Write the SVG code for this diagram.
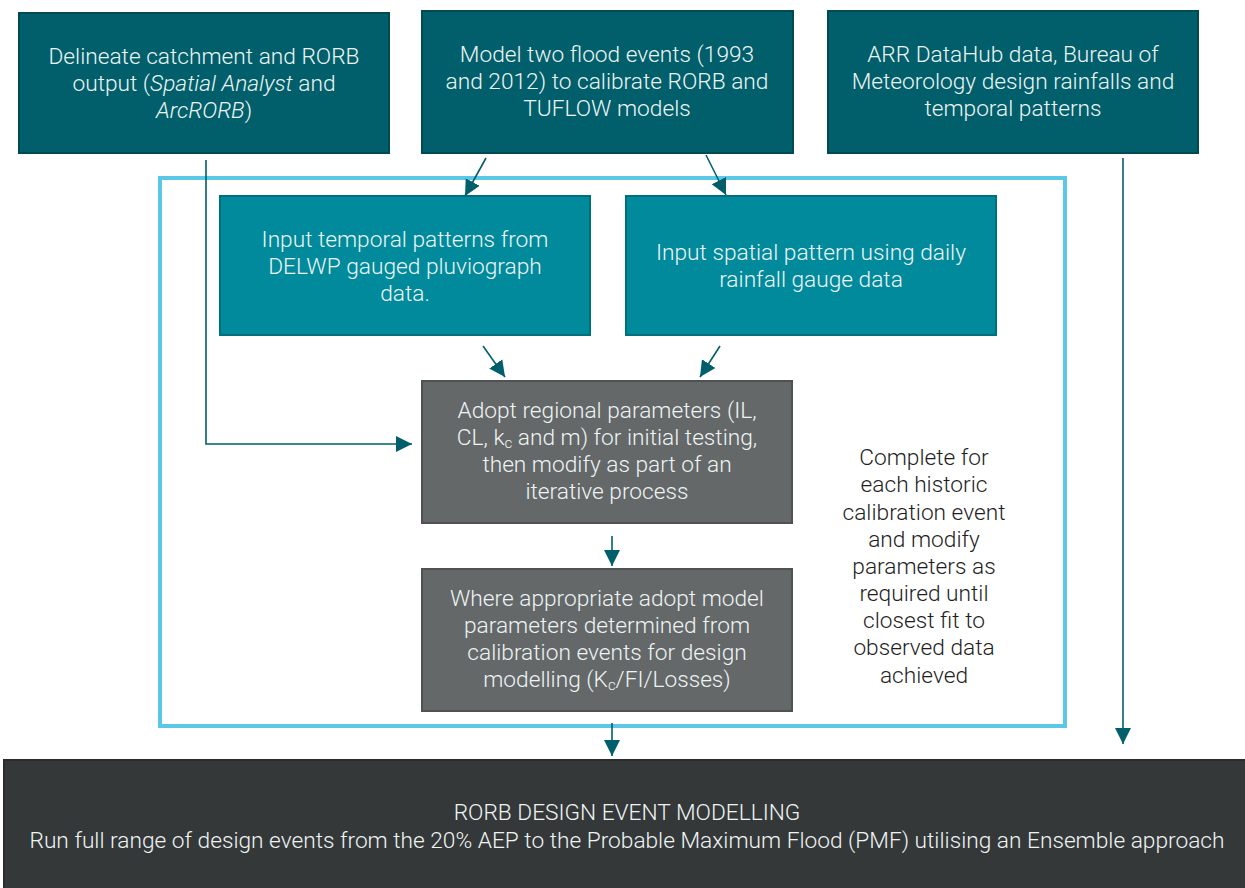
<svg xmlns="http://www.w3.org/2000/svg" width="1245" height="888" viewBox="0 0 1245 888">
<defs>
<marker id="ahb" viewBox="0 0 10 10" refX="10" refY="5" markerWidth="16" markerHeight="18" markerUnits="userSpaceOnUse" orient="auto">
<path d="M0,0 L10,5 L0,10 z" fill="#005f6b"/>
</marker>
</defs>
<style>
.dark{fill:#005f6b;stroke:#004a54;stroke-width:2}
.mid{fill:#008a9c;stroke:#00707e;stroke-width:2}
.gray{fill:#646869;stroke:#4e5253;stroke-width:2}
.bot{fill:#353839;stroke:#2a2c2d;stroke-width:2}
.t{font-family:Roboto,"Liberation Sans",sans-serif;font-weight:300;font-size:22.7px;fill:#eef4f4;text-anchor:middle}
.tk{font-family:Roboto,"Liberation Sans",sans-serif;font-weight:300;font-size:22.7px;fill:#1e1e1e;text-anchor:middle}
.c{stroke:#005f6b;stroke-width:1.6;fill:none;marker-end:url(#ahb)}
.sub{font-size:15px}
</style>
<rect width="1245" height="888" fill="#ffffff"/>
<g id="frame">
<rect x="160" y="178" width="905" height="548" fill="none" stroke="#5bc8e8" stroke-width="4"/>
</g>
<g id="n1">
<rect class="dark" x="19" y="13" width="370" height="140"/>
<text class="t" x="204" y="64">Delineate catchment and RORB</text>
<text class="t" x="204" y="91">output (<tspan font-style="italic">Spatial Analyst</tspan> and</text>
<text class="t" x="204" y="118"><tspan font-style="italic">ArcRORB</tspan>)</text>
</g>
<g id="n2">
<rect class="dark" x="422" y="11" width="371" height="142"/>
<text class="t" x="607" y="62">Model two flood events (1993</text>
<text class="t" x="607" y="89">and 2012) to calibrate RORB and</text>
<text class="t" x="607" y="116">TUFLOW models</text>
</g>
<g id="n3">
<rect class="dark" x="828" y="11" width="370" height="142"/>
<text class="t" x="1013" y="62">ARR DataHub data, Bureau of</text>
<text class="t" x="1013" y="89">Meteorology design rainfalls and</text>
<text class="t" x="1013" y="116">temporal patterns</text>
</g>
<g id="n4">
<rect class="mid" x="220" y="196" width="370" height="139"/>
<text class="t" x="405" y="247">Input temporal patterns from</text>
<text class="t" x="405" y="274">DELWP gauged pluviograph</text>
<text class="t" x="405" y="301">data.</text>
</g>
<g id="n5">
<rect class="mid" x="626" y="196" width="370" height="139"/>
<text class="t" x="811" y="260">Input spatial pattern using daily</text>
<text class="t" x="811" y="287">rainfall gauge data</text>
</g>
<g id="n6">
<rect class="gray" x="422" y="381" width="370" height="142"/>
<text class="t" x="607" y="418">Adopt regional parameters (IL,</text>
<text class="t" x="607" y="445">CL, k<tspan class="sub" dy="3">c</tspan><tspan dy="-3"> and m) for initial testing,</tspan></text>
<text class="t" x="607" y="472">then modify as part of an</text>
<text class="t" x="607" y="499">iterative process</text>
</g>
<g id="n7">
<rect class="gray" x="422" y="569" width="370" height="142"/>
<text class="t" x="607" y="606">Where appropriate adopt model</text>
<text class="t" x="607" y="633">parameters determined from</text>
<text class="t" x="607" y="660">calibration events for design</text>
<text class="t" x="607" y="687">modelling (K<tspan class="sub" dy="3">c</tspan><tspan dy="-3">/FI/Losses)</tspan></text>
</g>
<g id="note">
<text class="tk" x="924" y="465">Complete for</text>
<text class="tk" x="924" y="492">each historic</text>
<text class="tk" x="924" y="520">calibration event</text>
<text class="tk" x="924" y="547">and modify</text>
<text class="tk" x="924" y="574">parameters as</text>
<text class="tk" x="924" y="601">required until</text>
<text class="tk" x="924" y="628">closest fit to</text>
<text class="tk" x="924" y="655">observed data</text>
<text class="tk" x="924" y="683">achieved</text>
</g>
<g id="n8">
<rect class="bot" x="4" y="760" width="1245" height="130"/>
<text class="t" x="627" y="820">RORB DESIGN EVENT MODELLING</text>
<text class="t" x="627" y="848">Run full range of design events from the 20% AEP to the Probable Maximum Flood (PMF) utilising an Ensemble approach</text>
</g>
<g id="connectors">
<path class="c" d="M206,160 L206,444 L412,444"/>
<path class="c" d="M486,158 L465,196"/>
<path class="c" d="M706,155 L726,195"/>
<path class="c" d="M483,346 L505,377"/>
<path class="c" d="M720,346 L700,377"/>
<path class="c" d="M612,536 L612,566"/>
<path class="c" d="M612,723 L612,756"/>
<path class="c" d="M1123,158 L1123,744"/>
</g>
</svg>
